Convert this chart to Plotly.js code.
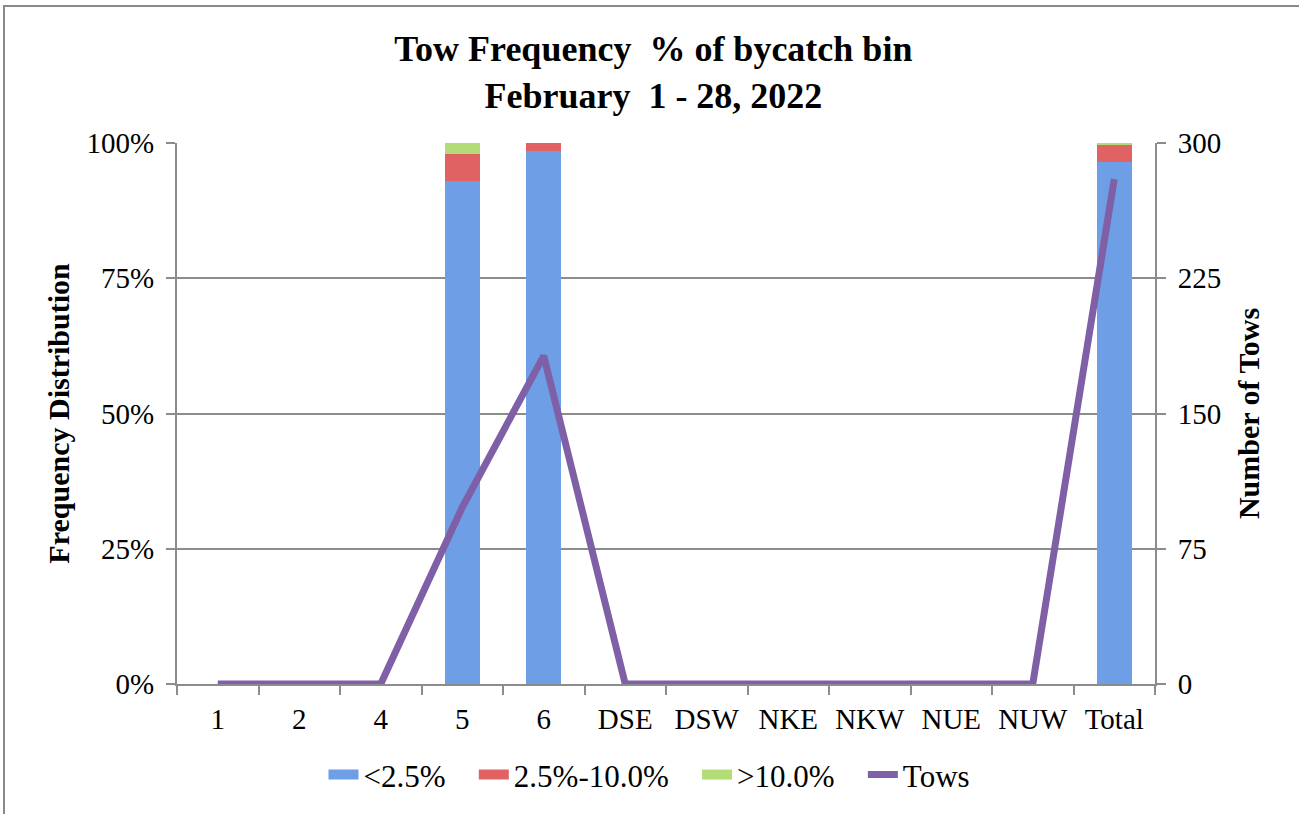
<!DOCTYPE html>
<html>
<head>
<meta charset="utf-8">
<script src="https://cdn.plot.ly/plotly-3.0.1.min.js"></script>
<style>
html,body{margin:0;padding:0;background:#fff;}
#frame{position:absolute;left:3px;top:5px;width:1296px;height:809px;border-left:2px solid #8a8a8a;border-top:2px solid #8a8a8a;box-sizing:border-box;pointer-events:none;z-index:5;}
#chart{width:1299px;height:814px;}
</style>
</head>
<body>
<div id="frame"></div>
<div id="chart"></div>
<script>
var categories = ["1","2","4","5","6","DSE","DSW","NKE","NKW","NUE","NUW","Total"];
var lowPct  = [0,0,0,0.929,0.986,0,0,0,0,0,0,0.964];
var midPct  = [0,0,0,0.051,0.014,0,0,0,0,0,0,0.032];
var highPct = [0,0,0,0.020,0.000,0,0,0,0,0,0,0.004];
var tows    = [0,0,0,98,182,0,0,0,0,0,0,280];
var seriesNames = ["&lt;2.5%","2.5%-10.0%","&gt;10.0%","Tows"];

var font = "Liberation Serif, Times New Roman, serif";
var colors = ["#6d9ee6","#e06262","#b3dc76","#7f5fa5"];
var pcts = [lowPct, midPct, highPct];
var pad = "\u00a0\u00a0\u00a0";
var data = [];
for (var i = 0; i < 3; i++) {
  data.push({type:"bar", name:seriesNames[i], legendgroup:"g"+i, showlegend:false, x:categories, y:pcts[i], marker:{color:colors[i]}, width:0.43, hoverinfo:"skip"});
}
data.push({type:"scatter", mode:"lines", name:seriesNames[3], x:categories, y:tows, yaxis:"y2", line:{color:colors[3], width:7}, showlegend:false, hoverinfo:"skip"});
// legend entries (wide swatches like the original)
for (var j = 0; j < 4; j++) {
  data.push({type:"scatter", mode:"lines", name:seriesNames[j] + (j < 3 ? pad : ""), legendgroup:"g"+j, x:[null], y:[null], line:{color:colors[j], width: j < 3 ? 16 : 7}, hoverinfo:"skip"});
}
var axisCommon = {showline:true, linecolor:"#8c8c8c", linewidth:2, ticks:"outside", ticklen:9, tickcolor:"#8c8c8c", tickwidth:2, zeroline:false, tickfont:{family:font, size:29}, ticklabelstandoff:6};
var layout = {
  width:1299, height:814,
  margin:{l:177, r:144, t:143, b:130},
  paper_bgcolor:"#fff", plot_bgcolor:"#fff",
  barmode:"stack",
  font:{family:font, size:29, color:"#000"},
  title:{text:"Tow Frequency\u00a0 % of bycatch bin<br>February\u00a0 1 - 28, 2022", font:{family:font, size:36, color:"#000", weight:"bold"}, x:0.503, xref:"container", y:0.925, yref:"container", yanchor:"top"},
  xaxis:Object.assign({}, axisCommon, {type:"category", tickson:"boundaries", showgrid:false, ticklabelstandoff:8}),
  yaxis:Object.assign({}, axisCommon, {range:[0,1], dtick:0.25, tickformat:".0%", gridcolor:"#8c8c8c", gridwidth:2,
         title:{text:"Frequency Distribution", font:{family:font, size:30, weight:"bold"}, standoff:8}}),
  yaxis2:Object.assign({}, axisCommon, {range:[0,300], dtick:75, overlaying:"y", side:"right", showgrid:false,
          title:{text:"Number of Tows", font:{family:font, size:30, weight:"bold"}, standoff:18}}),
  legend:{orientation:"h", x:0.5, xanchor:"center", xref:"container", y:0.048, yref:"container", yanchor:"middle", font:{family:font, size:31}, itemwidth:30, traceorder:"normal"},
  showlegend:true
};
Plotly.newPlot("chart", data, layout, {displayModeBar:false, staticPlot:true});
</script>
</body>
</html>
